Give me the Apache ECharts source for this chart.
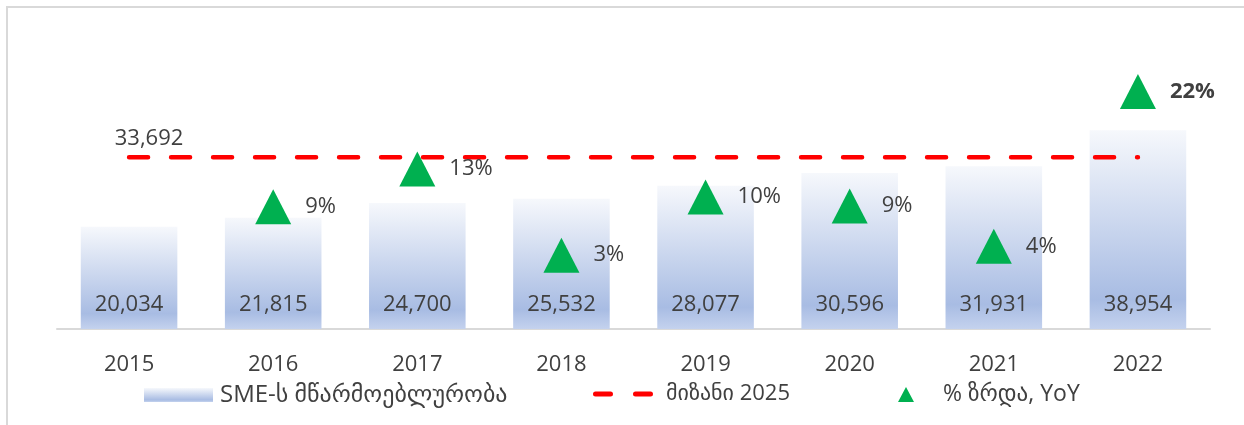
<!DOCTYPE html>
<html>
<head>
<meta charset="utf-8">
<script src="https://cdn.jsdelivr.net/npm/echarts@6/dist/echarts.min.js"></script>
<style>
html, body { margin: 0; padding: 0; background: #fff; }
#chart { width: 1244px; height: 425px; }
</style>
</head>
<body>
<div id="chart"></div>
<script>
var years = ['2015', '2016', '2017', '2018', '2019', '2020', '2021', '2022']
var productivity = [20034, 21815, 24700, 25532, 28077, 30596, 31931, 38954]
var target2025 = [33692, 33692, 33692, 33692, 33692, 33692, 33692, 33692]
var growthPct = [null, 8.9, 13.2, 3.4, 10.0, 9.0, 4.4, 22.0]

var seriesNames = ['SME-ს მწარმოებლურობა', 'მიზანი 2025', '% ზრდა, YoY']

var FONT = '"Open Sans", "DejaVu Sans", sans-serif'
var TXT = '#404040'

var barGradient = new echarts.graphic.LinearGradient(0, 0, 0, 1, [
    {offset: 0, color: '#f6f8fc'},
    {offset: 0.85, color: '#a8bce3'},
    {offset: 1, color: '#c4d2ee'}
])

// two rounded dashes for the target legend icon
var dashIcon = 'path://M2.5,0h15a2.5,2.5 0 0 1 0,5h-15a2.5,2.5 0 0 1 0,-5z M42.5,0h15a2.5,2.5 0 0 1 0,5h-15a2.5,2.5 0 0 1 0,-5z'

function fmtNum(v){
    return v.toLocaleString('en-US')
}

function legendAt(left, item, w, h, size, pad){
    return {
        left: left,
        top: 383,
        padding: 0,
        itemWidth: w,
        itemHeight: h,
        data: [item],
        selectedMode: false,
        textStyle: {fontFamily: FONT, fontSize: size, color: TXT, padding: [0, 0, 0, pad]}
    }
}

var option = {
    animation: false,
    graphic: [{
        type: 'rect',
        shape: {x: 7, y: 7, width: 1260, height: 440},
        style: {fill: 'none', stroke: '#d9d9d9', lineWidth: 2},
        silent: true
    }],
    legend: [
        legendAt(144, {name: seriesNames[0], icon: 'rect'}, 69, 14, 24, 2),
        legendAt(593, {name: seriesNames[1], icon: dashIcon}, 60, 5, 22, 8),
        legendAt(898, {name: seriesNames[2], icon: 'triangle'}, 16, 15, 23, 24)
    ],
    grid: {left: 57, right: 34, top: 74, bottom: 96},
    xAxis: {
        type: 'category',
        data: years,
        axisLine: {lineStyle: {color: '#d9d9d9', width: 2}},
        axisTick: {show: false},
        axisLabel: {fontFamily: FONT, fontSize: 22, color: TXT, margin: 25}
    },
    yAxis: [{
        type: 'value',
        min: 0,
        max: 50000,
        show: false
    }, {
        type: 'value',
        min: -5,
        max: 24,
        show: false
    }],
    series: [{
        name: seriesNames[0],
        type: 'bar',
        data: productivity,
        barCategoryGap: '33%',
        itemStyle: {color: barGradient},
        label: {
            show: true,
            position: 'insideBottom',
            distance: 13,
            fontFamily: FONT,
            fontSize: 22,
            color: TXT,
            formatter: function(p){ return fmtNum(p.value) }
        }
    }, {
        name: seriesNames[1],
        type: 'line',
        data: target2025,
        symbol: 'none',
        lineStyle: {color: '#ff0000', width: 4.5, type: [19, 23], cap: 'round'},
        itemStyle: {color: '#ff0000'},
        z: 3,
        markPoint: {
            symbol: 'circle',
            symbolSize: 0,
            data: [{coord: [0, 33692], value: 33692}],
            label: {
                show: true,
                offset: [20, -18],
                fontFamily: FONT,
                fontSize: 22,
                color: TXT,
                formatter: function(p){ return fmtNum(p.value) }
            }
        }
    }, {
        name: seriesNames[2],
        type: 'scatter',
        yAxisIndex: 1,
        data: growthPct,
        symbol: 'triangle',
        symbolSize: [36, 35],
        itemStyle: {color: '#00b050', opacity: 1},
        z: 4,
        label: {
            show: true,
            position: 'right',
            distance: 14,
            fontFamily: FONT,
            fontSize: 22,
            color: TXT,
            formatter: function(p){
                var t = Math.round(p.value[1] !== undefined ? p.value[1] : p.value) + '%'
                return p.dataIndex === 7 ? '{b|' + t + '}' : t
            },
            rich: {
                b: {fontFamily: FONT, fontSize: 22, fontWeight: 'bold', color: TXT}
            }
        }
    }]
}

var chart = echarts.init(document.getElementById('chart'))
chart.setOption(option)
</script>
</body>
</html>
